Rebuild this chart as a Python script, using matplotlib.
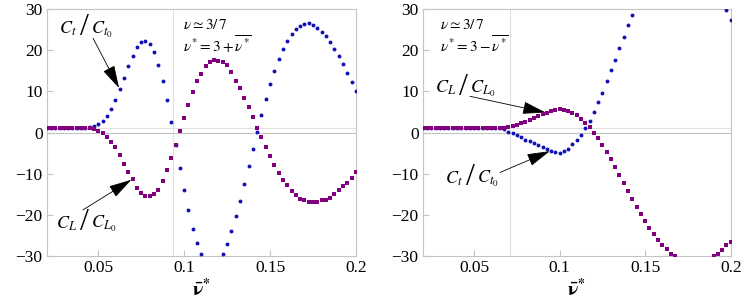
import numpy as np
import matplotlib
matplotlib.use("Agg")
import matplotlib.pyplot as plt

plt.rcParams["font.family"] = "serif"
plt.rcParams["font.serif"] = ["Liberation Serif", "DejaVu Serif"]
plt.rcParams["mathtext.fontset"] = "stix"

# ====== data ======
nu_bar = np.linspace(0.02, 0.2, 73)   # sampling grid, step 0.0025

# left panel: nu* = 3 + nu_bar*
ct_plus = [1.0] * 9 + [
    1.1, 1.3, 1.6, 2.1, 2.8, 3.9, 5.7, 7.9, 10.5, 13.3,
    16.1, 18.5, 20.7, 22.0, 22.3, 21.4, 19.6, 16.5, 12.6, 7.9,
    2.5, -3.1, -8.7, -13.9, -18.9, -23.4, -26.9, -29.5, -31.3, -32.2,
    -32.2, -31.2, -29.5, -27.0, -24.0, -20.4, -16.6, -12.5, -8.1, -4.0,
    0.2, 4.2, 8.1, 11.7, 15.0, 17.8, 20.3, 22.3, 24.0, 25.2,
    25.9, 26.3, 26.5, 26.2, 25.5, 24.4, 23.4, 21.9, 20.3, 18.5,
    16.7, 14.5, 12.3, 10.1,
]
cl_plus = [1.0] * 11 + [
    0.8, 0.45, -0.2, -1.0, -2.2, -3.6, -5.5, -7.6, -9.7,
    -11.3, -13.5, -14.7, -15.5, -15.4, -15.0, -13.9, -11.9, -9.2, -6.3,
    -3.0, 0.3, 3.6, 6.8, 9.9, 12.5, 14.3, 16.1, 17.2, 17.7,
    17.4, 17.1, 16.3, 14.6, 12.6, 10.9, 8.4, 6.2, 3.7, 1.2,
    -1.2, -3.6, -5.7, -8.0, -9.8, -11.5, -12.8, -14.3, -15.2, -16.1,
    -16.4, -16.8, -17.0, -17.0, -16.5, -16.4, -15.8, -14.9, -13.9, -13.1,
    -12.2, -11.0, -9.6,
]

# right panel: nu* = 3 - nu_bar*
ct_minus = [1.0] * 19 + [
    0.8, 0.2, -0.2, -0.6, -1.2, -1.7, -2.1, -2.6, -3.1, -3.5,
    -4.0, -4.4, -4.8, -4.9, -4.6, -4.0, -2.9, -1.8, -0.5, 1.0,
    2.9, 5.0, 7.3, 9.7, 12.4, 15.1, 17.7, 20.5, 23.2, 26.0,
    28.5, 31.0, 33.4, 35.6, 37.6, 39.4, 40.9, 42.1, 43.1, 43.8,
    44.2, 44.3, 44.1, 43.6, 42.9, 41.9, 40.7, 39.3, 37.7, 35.9,
    33.9, 31.9, 29.7, 27.3,
]
cl_minus = [1.0] * 19 + [
    1.2, 1.3, 1.6, 1.9, 2.2, 2.5, 3.0, 3.5, 4.0, 4.4,
    4.8, 5.2, 5.45, 5.6, 5.5, 5.3, 4.8, 4.2, 3.4, 2.4,
    1.3, 0.0, -1.4, -3.0, -4.7, -6.5, -8.3, -10.2, -12.2, -14.2,
    -16.1, -18.0, -19.7, -21.5, -23.2, -24.7, -26.1, -27.3, -28.3, -29.5,
    -30.1, -30.9, -31.5, -31.9, -32.1, -32.1, -31.9, -31.5, -30.9, -30.1,
    -29.5, -28.5, -27.4, -26.5,
]

BLUE = "#1010b4"
PURPLE = "#800080"
FRAME = "#c4c4c4"
LIGHT = "#e0e0e0"

fig = plt.figure(figsize=(7.47, 2.99), dpi=100)
ax1 = fig.add_axes([0.0625, 0.1438, 0.414, 0.826])
ax2 = fig.add_axes([0.5659, 0.1438, 0.4123, 0.826])

arrow = dict(arrowstyle="-|>,head_length=0.8,head_width=0.22",
             mutation_scale=18, color="black", lw=0.6, shrinkA=0, shrinkB=1)


def setup(ax, vline_x):
    ax.set_xlim(0.02, 0.2)
    ax.set_ylim(-30, 30)
    ax.axvline(vline_x, color=LIGHT, lw=0.8, zorder=0)
    ax.axhline(1.0, color=LIGHT, lw=0.8, zorder=0)
    ax.axhline(0.0, color=FRAME, lw=0.8, zorder=0)
    for sp in ax.spines.values():
        sp.set_color(FRAME)
        sp.set_linewidth(0.8)
    ax.set_xticks([0.05, 0.1, 0.15, 0.2])
    ax.set_xticklabels(["0.05", "0.1", "0.15", "0.2"])
    ax.set_yticks([-30, -20, -10, 0, 10, 20, 30])
    ax.tick_params(direction="in", length=4, color=FRAME, labelsize=12.5, pad=3)
    ax.set_xlabel(r"$\mathbf{\bar{\nu}^{*}}$", fontsize=14, labelpad=1)


def scatter(ax, ct, cl):
    ax.plot(nu_bar, ct, "o", color=BLUE, ms=2.8, mew=0, zorder=3)
    ax.plot(nu_bar, cl, "s", color=PURPLE, ms=2.4, mew=0, zorder=4)


def ratio_label(ax, num, den, pos, tail, tip):
    # C / C0 with a tall slash, plus a separate arrow
    ax.annotate("/", xy=pos, ha="center", va="center", fontsize=23)
    ax.annotate(num, xy=pos, xytext=(-5, -4), textcoords="offset points",
                ha="right", va="baseline", fontsize=13)
    ax.annotate(den, xy=pos, xytext=(5, -4), textcoords="offset points",
                ha="left", va="baseline", fontsize=13)
    ax.annotate("", xy=tip, xytext=tail, arrowprops=arrow)


# left panel
setup(ax1, 0.0937)
scatter(ax1, ct_plus, cl_plus)
ratio_label(ax1, r"$C_t$", r"$C_{t_0}$", (0.0417, 25.4), (0.0470, 22.9),
            (nu_bar[17], ct_plus[17]))
ratio_label(ax1, r"$C_L$", r"$C_{L_0}$", (0.0417, -21.9), (0.0411, -18.8),
            (nu_bar[20], cl_plus[20]))
ax1.text(0.44, 0.965, r"$\nu \simeq 3/\,7$", transform=ax1.transAxes,
         fontsize=11, ha="left", va="top")
ax1.text(0.44, 0.90, r"$\nu^{*} = 3 + \overline{\nu^{*}}$", transform=ax1.transAxes,
         fontsize=11, ha="left", va="top")

# right panel
setup(ax2, 0.071)
scatter(ax2, ct_minus, cl_minus)
ratio_label(ax2, r"$C_L$", r"$C_{L_0}$", (0.0438, 11.0), (0.0476, 8.8),
            (nu_bar[29], cl_minus[29]))
ratio_label(ax2, r"$C_t$", r"$C_{t_0}$", (0.0476, -11.0), (0.0652, -9.7),
            (nu_bar[30], ct_minus[30]))
ax2.text(0.056, 0.965, r"$\nu \simeq 3/\,7$", transform=ax2.transAxes,
         fontsize=11, ha="left", va="top")
ax2.text(0.056, 0.90, r"$\nu^{*} = 3 - \overline{\nu^{*}}$", transform=ax2.transAxes,
         fontsize=11, ha="left", va="top")

fig.savefig("out.png", dpi=100)
